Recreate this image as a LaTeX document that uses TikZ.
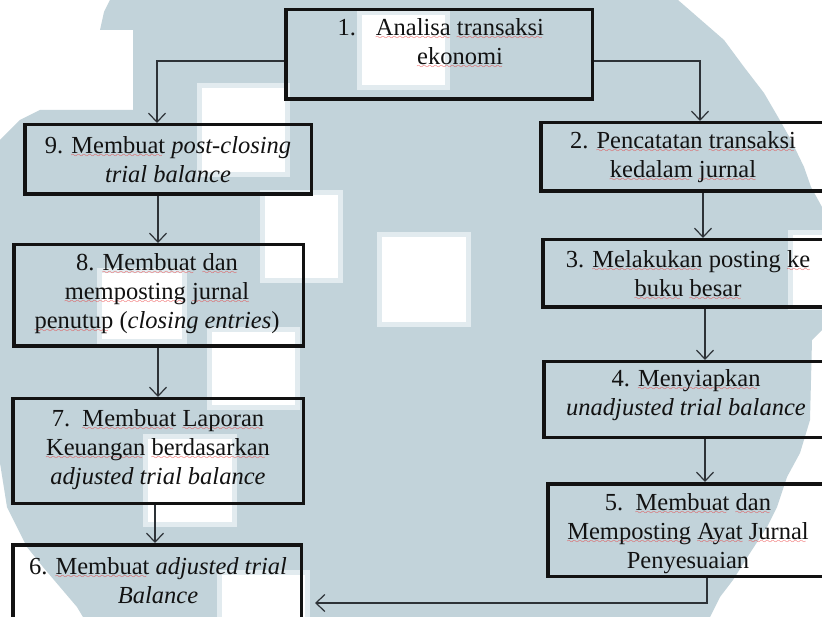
\documentclass[tikz,border=0pt]{standalone}
\usepackage{fontspec}
\setmainfont{Liberation Serif}
\usetikzlibrary{arrows.meta}
\definecolor{wmblue}{RGB}{194,211,218}
\definecolor{wmedge}{RGB}{226,235,239}
\definecolor{sqred}{RGB}{235,50,50}
\definecolor{boxline}{RGB}{18,18,18}
\definecolor{conline}{RGB}{45,50,55}
\definecolor{txtcol}{RGB}{18,18,18}
\font\wavefont=lasy8
\newbox\sqbox
\newcommand\sq[1]{\setbox\sqbox\hbox{#1}\leavevmode\rlap{\lower4pt\hbox to\wd\sqbox{\color{sqred}\leaders\hbox{\wavefont\char58}\hfill}}\box\sqbox\relax}
\newcommand\wmsq[4]{\fill[wmedge] (#1,#2) rectangle (#3,#4);
  \fill[white] (#1+5,#2+5) rectangle (#3-5,#4-5);}
\tikzset{
  boxnode/.style={draw=boxline, line width=3.5pt, inner sep=0pt},
  txt/.style={align=center, font=\fontsize{24.5}{29}\selectfont, text=txtcol, inner sep=0pt},
  arr/.style={draw=conline, line width=1.2pt, -{Straight Barb[length=9pt,width=17pt,line width=1.2pt]}}
}
\begin{document}
\begin{tikzpicture}[x=1pt,y=-1pt]
\useasboundingbox (0,0) rectangle (822,617);
\clip (0,0) rectangle (822,617);
% watermark background
\fill[white] (0,0) rectangle (822,617);
\fill[wmblue] (110,0) -- (678,0) -- (701,20) -- (724,40) -- (744,67) -- (764,93) -- (778,117)
  -- (791,140) -- (804,167) -- (811,187) -- (822,207) -- (822,330) -- (812,340) -- (810,420)
  -- (800,453) -- (787,477) -- (777,507) -- (767,527) -- (750,553) -- (733,580) -- (720,597)
  -- (710,617) -- (83,617) -- (77,607) -- (60,587) -- (43,567) -- (27,547) -- (17,527)
  -- (7,507) -- (0,463) -- (0,140) -- (20,120) -- (40,110) -- (133,110) -- (133,30)
  -- (100,30) -- (104,12) -- cycle;
\wmsq{197}{83}{290}{177}
\wmsq{260}{190}{343}{283}
\wmsq{377}{232}{471}{327}
\wmsq{357}{10}{450}{90}
\wmsq{788}{230}{835}{310}
\wmsq{207}{327}{300}{410}
\wmsq{143}{434}{237}{527}
\wmsq{217}{570}{310}{640}
\wmsq{97}{268}{187}{344}

% boxes
\node[boxnode, minimum width=306.5pt, minimum height=89.5pt] (b1) at (439,54.5) {};
\node[boxnode, minimum width=286.5pt, minimum height=69.5pt] (b9) at (168,159.5) {};
\node[boxnode, minimum width=289.5pt, minimum height=101.5pt] (b8) at (158.5,295.5) {};
\node[boxnode, minimum width=290.5pt, minimum height=104.5pt] (b7) at (158,451) {};
\node[boxnode, minimum width=288.5pt, minimum height=116.5pt] (b6) at (157,603) {};
\node[boxnode, minimum width=307.5pt, minimum height=68.5pt] (b2) at (694.5,157) {};
\node[boxnode, minimum width=305.5pt, minimum height=67.5pt] (b3) at (695.5,273.5) {};
\node[boxnode, minimum width=304.5pt, minimum height=75.5pt] (b4) at (696,399.5) {};
\node[boxnode, minimum width=300.5pt, minimum height=92.5pt] (b5) at (698,530) {};

% texts
\node[txt] (t1) at (460,44) {\llap{1.\hspace{20pt}}\sq{Analisa} \sq{transaksi}\\\sq{ekonomi}};
\node[txt] (t9) at (168,160) {9. \sq{Membuat} \textit{post-closing}\\\textit{trial balance}};
\node[txt] (t8) at (157,294) {8. \sq{Membuat} \sq{dan}\\\sq{memposting} \sq{jurnal}\\\sq{penutup} (\textit{closing entries})};
\node[txt] (t7) at (158,450) {7.\ \ \sq{Membuat} \sq{Laporan}\\\sq{Keuangan} \sq{berdasarkan}\\\textit{adjusted trial balance}};
\node[txt] (t6) at (158,581) {6. \sq{Membuat} \textit{adjusted trial}\\\textit{Balance}};
\node[txt] (t2) at (683,157.5) {2. \sq{Pencatatan} \sq{transaksi}\\\sq{kedalam} \sq{jurnal}};
\node[txt] (t3) at (688,275.5) {3. \sq{Melakukan} posting \sq{ke}\\\sq{buku} \sq{besar}};
\node[txt] (t4) at (686,395.5) {4. \sq{Menyiapkan}\\\textit{unadjusted trial balance}};
\node[txt] (t5) at (688,533.5) {5.\ \ \sq{Membuat} \sq{dan}\\\sq{Memposting} \sq{Ayat} \sq{Jurnal}\\Penyesuaian};

% connector x positions
\coordinate (xl) at (157,0);
\coordinate (xl2) at (158,0);
\coordinate (xl3) at (155,0);
\coordinate (xr1) at (700,0);
\coordinate (xr2) at (703,0);
\coordinate (xr3) at (705,0);
\coordinate (xr4) at (707,0);

% connectors
\draw[arr] ([yshift=-6.5pt]b1.west) -| (b9.north -| xl);
\draw[arr] ([yshift=-6.5pt]b1.east) -| (b2.north -| xr1);
\draw[arr] (b9.south -| xl2) -- (b8.north -| xl2);
\draw[arr] (b8.south -| xl2) -- (b7.north -| xl2);
\draw[arr] (b7.south -| xl3) -- (b6.north -| xl3);
\draw[arr] (b2.south -| xr2) -- (b3.north -| xr2);
\draw[arr] (b3.south -| xr3) -- (b4.north -| xr3);
\draw[arr] (b4.south -| xr3) -- (b5.north -| xr3);
\draw[arr] (b5.south -| xr4) |- ([xshift=12pt]b6.east);
\end{tikzpicture}
\end{document}
